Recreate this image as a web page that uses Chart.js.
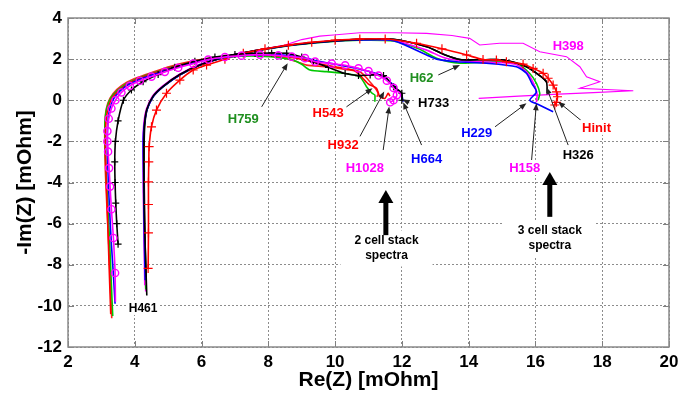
<!DOCTYPE html>
<html>
<head>
<meta charset="utf-8">
<script src="https://cdn.jsdelivr.net/npm/chart.js@4.4.0/dist/chart.umd.min.js"></script>
<style>
  html, body { margin: 0; padding: 0; background: #fff; }
  #wrap { width: 694px; height: 397px; }
</style>
</head>
<body>
<div id="wrap"><canvas id="nyquist" width="694" height="397"></canvas></div>
<script>
// Axis ranges
const reTicks = [2, 4, 6, 8, 10, 12, 14, 16, 18, 20];
const imTicks = [-12, -10, -8, -6, -4, -2, 0, 2, 4];

// ---- 2 cell stack spectra ----
const h1028Re = [3.42, 3.41, 3.36, 3.30, 3.26, 3.23, 3.20, 3.18, 3.18, 3.22, 3.30, 3.42, 3.60, 3.85, 4.15, 4.50, 4.90, 5.30, 5.75, 6.20, 6.70, 7.20, 7.75, 8.30, 8.70, 9.10, 9.40, 9.90, 10.30, 10.70, 11.00, 11.30, 11.55, 11.75, 11.85, 11.75, 11.65];
const h1028Im = [-9.8, -8.4, -6.7, -5.3, -4.2, -3.3, -2.5, -2.0, -1.5, -0.9, -0.4, 0.0, 0.38, 0.7, 0.95, 1.15, 1.38, 1.58, 1.78, 1.98, 2.1, 2.17, 2.22, 2.18, 2.12, 2.05, 1.88, 1.78, 1.7, 1.55, 1.42, 1.2, 0.95, 0.6, 0.25, 0.0, -0.1];

const h733Re = [3.50, 3.46, 3.43, 3.41, 3.40, 3.42, 3.50, 3.66, 3.90, 4.25, 4.70, 5.20, 5.80, 6.40, 7.00, 7.60, 8.10, 8.55, 9.00, 9.35, 9.80, 10.30, 10.70, 11.05, 11.45, 11.75, 12.00, 12.00];
const h733Im = [-7.0, -6.0, -5.0, -4.0, -3.0, -2.0, -1.0, 0.0, 0.5, 0.9, 1.25, 1.6, 1.9, 2.1, 2.22, 2.28, 2.3, 2.28, 2.1, 1.87, 1.6, 1.3, 1.2, 1.23, 1.2, 0.66, 0.34, 0.0];

const h759Re = [3.34, 3.30, 3.25, 3.19, 3.14, 3.11, 3.11, 3.16, 3.28, 3.50, 3.80, 4.15, 4.60, 5.10, 5.70, 6.30, 6.90, 7.50, 8.05, 8.45, 8.75, 9.00, 9.25, 9.75, 10.30, 10.74, 10.94, 11.10, 11.19, 11.19];
const h759Im = [-10.5, -9.0, -7.0, -5.0, -3.5, -2.0, -1.0, -0.4, 0.1, 0.5, 0.85, 1.1, 1.35, 1.62, 1.85, 2.02, 2.12, 2.16, 2.12, 2.05, 1.95, 1.75, 1.47, 1.39, 1.3, 1.14, 0.66, 0.35, 0.25, -0.07];

const h543Re = [3.31, 3.27, 3.22, 3.16, 3.12, 3.10, 3.11, 3.15, 3.26, 3.46, 3.75, 4.10, 4.55, 5.05, 5.65, 6.25, 6.85, 7.45, 8.00, 8.50, 8.90, 9.15, 9.75, 10.30, 10.74, 10.99, 11.14, 11.24, 11.29, 11.25];
const h543Im = [-10.6, -9.0, -7.0, -5.0, -3.5, -2.0, -1.0, -0.4, 0.1, 0.52, 0.87, 1.12, 1.37, 1.64, 1.88, 2.04, 2.14, 2.18, 2.15, 2.05, 1.85, 1.71, 1.63, 1.5, 1.39, 1.0, 0.7, 0.5, 0.3, 0.17];

const h932Re = [3.28, 3.25, 3.21, 3.17, 3.14, 3.12, 3.14, 3.20, 3.32, 3.55, 3.85, 4.20, 4.65, 5.15, 5.75, 6.35, 6.95, 7.55, 8.10, 8.60, 9.10, 9.60, 10.10, 10.60, 10.99, 11.24, 11.34, 11.49, 11.59, 11.64];
const h932Im = [-10.4, -9.0, -7.0, -5.0, -3.5, -2.0, -1.0, -0.4, 0.1, 0.5, 0.85, 1.1, 1.35, 1.62, 1.87, 2.05, 2.15, 2.2, 2.18, 2.1, 1.95, 1.75, 1.6, 1.42, 0.8, 0.58, 0.17, 0.09, 0.34, 0.2];

const h664Re = [3.41, 3.36, 3.30, 3.25, 3.21, 3.18, 3.19, 3.24, 3.36, 3.56, 3.85, 4.20, 4.65, 5.15, 5.75, 6.35, 6.95, 7.55, 8.10, 8.60, 9.10, 9.50, 10.00, 10.50, 10.90, 11.30, 11.60, 11.85, 12.00, 12.04];
const h664Im = [-9.9, -8.5, -7.0, -5.5, -4.0, -2.5, -1.2, -0.5, 0.05, 0.45, 0.8, 1.05, 1.3, 1.58, 1.83, 2.02, 2.13, 2.2, 2.22, 2.18, 2.05, 1.9, 1.75, 1.6, 1.45, 1.25, 0.95, 0.55, 0.2, -0.07];

// ---- 3 cell stack spectra ----
const hinitRe = [4.40, 4.41, 4.41, 4.41, 4.42, 4.43, 4.50, 4.65, 4.95, 5.35, 5.75, 6.15, 6.70, 7.25, 7.90, 8.60, 9.30, 10.00, 10.74, 11.50, 12.44, 13.20, 13.94, 14.43, 14.83, 15.13, 15.63, 15.93, 16.23, 16.38, 16.53, 16.63, 16.66, 16.63, 16.58];
const hinitIm = [-8.18, -6.45, -5.07, -3.97, -3.0, -2.26, -1.29, -0.48, 0.34, 0.98, 1.47, 1.71, 2.0, 2.28, 2.5, 2.68, 2.82, 2.92, 2.98, 2.98, 2.77, 2.5, 2.2, 1.98, 1.96, 1.87, 1.76, 1.55, 1.31, 1.07, 0.74, 0.41, 0.17, -0.1, -0.23];

const h461Re = [4.36, 4.33, 4.30, 4.28, 4.27, 4.27, 4.29, 4.36, 4.55, 4.85, 5.35, 5.95, 6.75, 7.75, 8.74, 9.75, 10.74, 11.74, 12.74, 13.30, 13.74, 14.50, 15.04, 15.73, 16.23, 16.35];
const h461Im = [-9.5, -8.0, -6.5, -5.0, -3.5, -2.2, -1.2, -0.45, 0.2, 0.68, 1.25, 1.72, 2.13, 2.45, 2.7, 2.86, 2.96, 2.97, 2.6, 2.2, 1.98, 1.97, 1.96, 1.63, 1.07, 0.85];

const h326Re = [4.34, 4.31, 4.29, 4.28, 4.28, 4.30, 4.37, 4.56, 4.86, 5.36, 5.96, 6.76, 7.76, 8.75, 9.76, 10.75, 11.75, 12.75, 13.30, 13.74, 14.50, 15.04, 15.73, 16.23, 16.33, 16.35, 16.35];
const h326Im = [-8.6, -7.0, -5.0, -3.5, -2.2, -1.2, -0.45, 0.2, 0.68, 1.25, 1.72, 2.13, 2.45, 2.7, 2.86, 2.96, 2.97, 2.6, 2.2, 1.98, 1.97, 1.96, 1.63, 1.07, 0.9, 0.6, 0.35];

const h229Re = [4.31, 4.29, 4.27, 4.26, 4.25, 4.26, 4.30, 4.37, 4.55, 4.85, 5.35, 5.95, 6.75, 7.75, 8.74, 9.75, 10.74, 11.74, 12.74, 13.04, 13.64, 14.53, 15.43, 15.73, 15.90, 16.03, 15.83, 16.10, 16.53];
const h229Im = [-8.75, -7.0, -5.0, -3.5, -2.2, -1.6, -1.0, -0.45, 0.17, 0.66, 1.23, 1.71, 2.12, 2.44, 2.69, 2.85, 2.93, 2.9, 2.2, 2.0, 1.87, 1.8, 1.63, 1.31, 0.8, 0.41, 0.0, -0.22, -0.56];

const h62Re = [4.33, 4.30, 4.28, 4.27, 4.27, 4.29, 4.36, 4.55, 4.85, 5.35, 5.95, 6.75, 7.75, 8.74, 9.75, 10.74, 11.74, 12.50, 13.04, 13.74, 14.73, 15.43, 15.83, 16.03, 16.13, 16.08];
const h62Im = [-9.2, -7.5, -5.5, -3.5, -2.0, -1.1, -0.45, 0.18, 0.67, 1.24, 1.72, 2.12, 2.44, 2.68, 2.84, 2.92, 2.88, 2.5, 2.04, 1.8, 1.87, 1.8, 1.3, 0.82, 0.34, 0.0];

const h158Re = [4.30, 4.28, 4.26, 4.25, 4.25, 4.28, 4.35, 4.53, 4.83, 5.33, 5.93, 6.73, 7.73, 8.72, 9.73, 10.72, 11.72, 12.72, 13.30, 13.90, 14.70, 15.40, 15.75, 15.95, 16.05, 16.03];
const h158Im = [-9.0, -7.0, -5.0, -3.0, -1.8, -1.0, -0.42, 0.2, 0.69, 1.26, 1.74, 2.14, 2.46, 2.7, 2.87, 2.95, 2.92, 2.45, 2.05, 1.9, 1.85, 1.75, 1.35, 0.8, 0.3, -0.1];

const h398Re = [4.32, 4.29, 4.27, 4.26, 4.28, 4.36, 4.55, 4.85, 5.35, 5.95, 6.75, 7.75, 8.50, 9.00, 9.54, 9.95, 10.74, 11.80, 12.74, 13.50, 14.03, 14.33, 14.93, 15.63, 16.13, 16.93, 17.33, 17.53, 17.93, 17.33, 18.93, 17.73, 16.70, 15.50, 14.30];
const h398Im = [-9.3, -7.0, -4.5, -2.5, -1.3, -0.46, 0.18, 0.67, 1.24, 1.72, 2.13, 2.46, 2.68, 2.95, 3.12, 3.17, 3.28, 3.28, 3.25, 3.15, 3.01, 2.69, 2.77, 2.77, 2.36, 2.12, 1.63, 1.14, 0.9, 0.58, 0.46, 0.37, 0.3, 0.2, 0.09];

const FONT = '"Liberation Sans", Arial, sans-serif';

function pairs(xs, ys) {
    return xs.map((x, i) => ({ x: x, y: ys[i] }));
}

function curve(label, xs, ys, color, extra) {
    return Object.assign({
        label: label,
        data: pairs(xs, ys),
        showLine: true,
        borderColor: color,
        backgroundColor: color,
        borderWidth: 1.6,
        pointRadius: 0,
        tension: 0.25
    }, extra || {});
}

// callouts: text position and arrow, in data units
const callouts = [
    { text: 'H759', color: '#1f8f1f', at: [7.25, -0.88], from: [7.8, -0.32], to: [8.58, 1.8] },
    { text: 'H543', color: '#ff0000', at: [9.79, -0.61], from: [10.34, -0.32], to: [11.12, 0.58] },
    { text: 'H932', color: '#ff0000', at: [10.24, -2.13], from: [10.74, -1.77], to: [11.47, 0.43] },
    { text: 'H1028', color: '#ff00ff', at: [10.89, -3.25], from: [11.44, -2.42], to: [11.62, -0.3] },
    { text: 'H664', color: '#0000ff', at: [12.74, -2.83], from: [12.59, -2.18], to: [12.04, -0.1] },
    { text: 'H733', color: '#000000', at: [12.95, -0.12], from: [12.22, -0.12], to: [12.02, 0.04] },
    { text: 'H62', color: '#1f8f1f', at: [12.59, 1.1], from: [13.09, 1.23], to: [13.74, 1.71] },
    { text: 'H229', color: '#0000ff', at: [14.24, -1.58], from: [14.79, -1.29], to: [15.73, -0.15] },
    { text: 'H158', color: '#ff00ff', at: [15.68, -3.27], from: [15.88, -2.99], to: [16.03, -0.15] },
    { text: 'H326', color: '#000000', at: [17.28, -2.62], from: [16.98, -2.18], to: [16.33, 0.63] },
    { text: 'Hinit', color: '#ff0000', at: [17.83, -1.32], from: [17.38, -1.0], to: [16.68, -0.07] },
    { text: 'H398', color: '#ff00ff', at: [16.98, 2.69] },
    { text: 'H461', color: '#000000', at: [4.25, -10.1], size: 12 }
];

const stackNotes = [
    { lines: ['2 cell stack', 'spectra'], at: [11.54, -6.82], tip: [11.52, -4.37], tail: [11.52, -6.56] },
    { lines: ['3 cell stack', 'spectra'], at: [16.43, -6.32], tip: [16.43, -3.49], tail: [16.43, -5.67] }
];

function drawArrow(ctx, x1, y1, x2, y2, head, half, width) {
    const a = Math.atan2(y2 - y1, x2 - x1);
    const c = Math.cos(a), s = Math.sin(a);
    ctx.lineWidth = width;
    ctx.beginPath();
    ctx.moveTo(x1, y1);
    ctx.lineTo(x2 - head * 0.7 * c, y2 - head * 0.7 * s);
    ctx.stroke();
    ctx.beginPath();
    ctx.moveTo(x2, y2);
    ctx.lineTo(x2 - head * c + half * s, y2 - head * s - half * c);
    ctx.lineTo(x2 - head * c - half * s, y2 - head * s + half * c);
    ctx.closePath();
    ctx.fill();
}

const decorations = {
    id: 'decorations',
    beforeDatasetsDraw(chart) {
        // inner tick marks
        const { ctx, chartArea: a, scales: { x, y } } = chart;
        ctx.save();
        ctx.strokeStyle = '#808080';
        ctx.lineWidth = 1;
        ctx.beginPath();
        reTicks.forEach(v => {
            const px = Math.round(x.getPixelForValue(v)) + 0.5;
            ctx.moveTo(px, a.bottom); ctx.lineTo(px, a.bottom - 6);
            ctx.moveTo(px, a.top); ctx.lineTo(px, a.top + 6);
        });
        imTicks.forEach(v => {
            const py = Math.round(y.getPixelForValue(v)) + 0.5;
            ctx.moveTo(a.left, py); ctx.lineTo(a.left + 6, py);
            ctx.moveTo(a.right, py); ctx.lineTo(a.right - 6, py);
        });
        ctx.stroke();
        ctx.restore();
    },
    afterDatasetsDraw(chart) {
        const { ctx, chartArea: a, scales: { x, y } } = chart;
        ctx.save();

        callouts.forEach(c => {
            if (c.from) {
                ctx.strokeStyle = '#222';
                ctx.fillStyle = '#222';
                drawArrow(ctx, x.getPixelForValue(c.from[0]), y.getPixelForValue(c.from[1]),
                    x.getPixelForValue(c.to[0]), y.getPixelForValue(c.to[1]), 7, 2.8, 1);
            }
        });

        callouts.forEach(c => {
            const size = c.size || 13;
            ctx.font = 'bold ' + size + 'px ' + FONT;
            ctx.textAlign = 'center';
            ctx.textBaseline = 'middle';
            const px = x.getPixelForValue(c.at[0]);
            const py = y.getPixelForValue(c.at[1]);
            const w = ctx.measureText(c.text).width;
            ctx.fillStyle = '#fff';
            ctx.fillRect(px - w / 2 - 2, py - size / 2 - 1, w + 4, size + 2);
            ctx.fillStyle = c.color;
            ctx.fillText(c.text, px, py + 1);
        });

        stackNotes.forEach(n => {
            ctx.font = 'bold 12px ' + FONT;
            ctx.textAlign = 'center';
            ctx.textBaseline = 'middle';
            const px = x.getPixelForValue(n.at[0]);
            const py = y.getPixelForValue(n.at[1]);
            const w = Math.max.apply(null, n.lines.map(t => ctx.measureText(t).width));
            ctx.fillStyle = '#fff';
            ctx.fillRect(px - w / 2 - 14, py - 10, w + 28, n.lines.length * 15 + 6);
            ctx.fillStyle = '#000';
            n.lines.forEach((t, i) => ctx.fillText(t, px, py + i * 15));
            ctx.strokeStyle = '#000';
            drawArrow(ctx, x.getPixelForValue(n.tail[0]), y.getPixelForValue(n.tail[1]),
                x.getPixelForValue(n.tip[0]), y.getPixelForValue(n.tip[1]), 13, 7.5, 5);
        });

        // plot frame
        ctx.strokeStyle = '#8a8a8a';
        ctx.lineWidth = 1.5;
        ctx.strokeRect(a.left, a.top, a.right - a.left, a.bottom - a.top);
        ctx.restore();
    }
};

function initializeNyquistChart() {
    const ctx = document.getElementById('nyquist').getContext('2d');
    const openCircle = {
        pointStyle: 'circle',
        pointRadius: c => (c.dataIndex === 0 ? 0 : 3.6),
        pointBorderWidth: 1.4,
        pointBackgroundColor: 'rgba(0,0,0,0)',
        pointBorderColor: '#ff00ff'
    };
    const plus = (color, r) => ({
        pointStyle: 'cross',
        pointRadius: r,
        pointBorderWidth: 1.2,
        pointBorderColor: color
    });

    new Chart(ctx, {
        type: 'scatter',
        data: {
            datasets: [
                // 2 cell stack (first in list = drawn on top)
                curve('H1028', h1028Re, h1028Im, '#ff00ff', openCircle),
                curve('H733', h733Re, h733Im, '#000000', plus('#000000', 3.5)),
                curve('H664', h664Re, h664Im, '#0000ff'),
                curve('H932', h932Re, h932Im, '#ff0000'),
                curve('H759', h759Re, h759Im, '#00c800'),
                curve('H543', h543Re, h543Im, '#ff2020'),
                // 3 cell stack
                curve('Hinit', hinitRe, hinitIm, '#ff0000', plus('#ff0000', 4.5)),
                curve('H461', h461Re, h461Im, '#000000'),
                curve('H229', h229Re, h229Im, '#0000ff'),
                curve('H326', h326Re, h326Im, '#000000'),
                curve('H158', h158Re, h158Im, '#ff00ff'),
                curve('H62', h62Re, h62Im, '#00c800'),
                curve('H398', h398Re, h398Im, '#ff00ff', { borderWidth: 1.1, tension: 0 })
            ]
        },
        options: {
            responsive: false,
            animation: false,
            devicePixelRatio: 1,
            layout: { padding: { left: 0, right: 25, top: 18, bottom: 0 } },
            plugins: {
                legend: { display: false },
                tooltip: { enabled: false }
            },
            scales: {
                x: {
                    type: 'linear',
                    min: reTicks[0],
                    max: reTicks[reTicks.length - 1],
                    afterBuildTicks: s => { s.ticks = reTicks.map(v => ({ value: v })); },
                    afterFit: s => { s.height = 50; },
                    grid: { color: '#8c8c8c', lineWidth: 1, drawTicks: false },
                    border: { display: false, dash: [2, 2] },
                    ticks: { color: '#000', padding: 5, font: { family: FONT, size: 17, weight: 'bold' } },
                    title: {
                        display: true,
                        text: 'Re(Z) [mOhm]',
                        color: '#000',
                        padding: { top: 0, bottom: 4 },
                        font: { family: FONT, size: 21, weight: 'bold' }
                    }
                },
                y: {
                    type: 'linear',
                    min: imTicks[0],
                    max: imTicks[imTicks.length - 1],
                    afterBuildTicks: s => { s.ticks = imTicks.map(v => ({ value: v })); },
                    afterFit: s => { s.width = 68; },
                    grid: { color: '#8c8c8c', lineWidth: 1, drawTicks: false },
                    border: { display: false, dash: [2, 2] },
                    ticks: { color: '#000', padding: 6, font: { family: FONT, size: 17, weight: 'bold' } },
                    title: {
                        display: true,
                        text: '-Im(Z) [mOhm]',
                        color: '#000',
                        padding: { top: 13, bottom: 0 },
                        font: { family: FONT, size: 21, weight: 'bold' }
                    }
                }
            }
        },
        plugins: [decorations]
    });
}

document.addEventListener('DOMContentLoaded', initializeNyquistChart);
</script>
</body>
</html>
